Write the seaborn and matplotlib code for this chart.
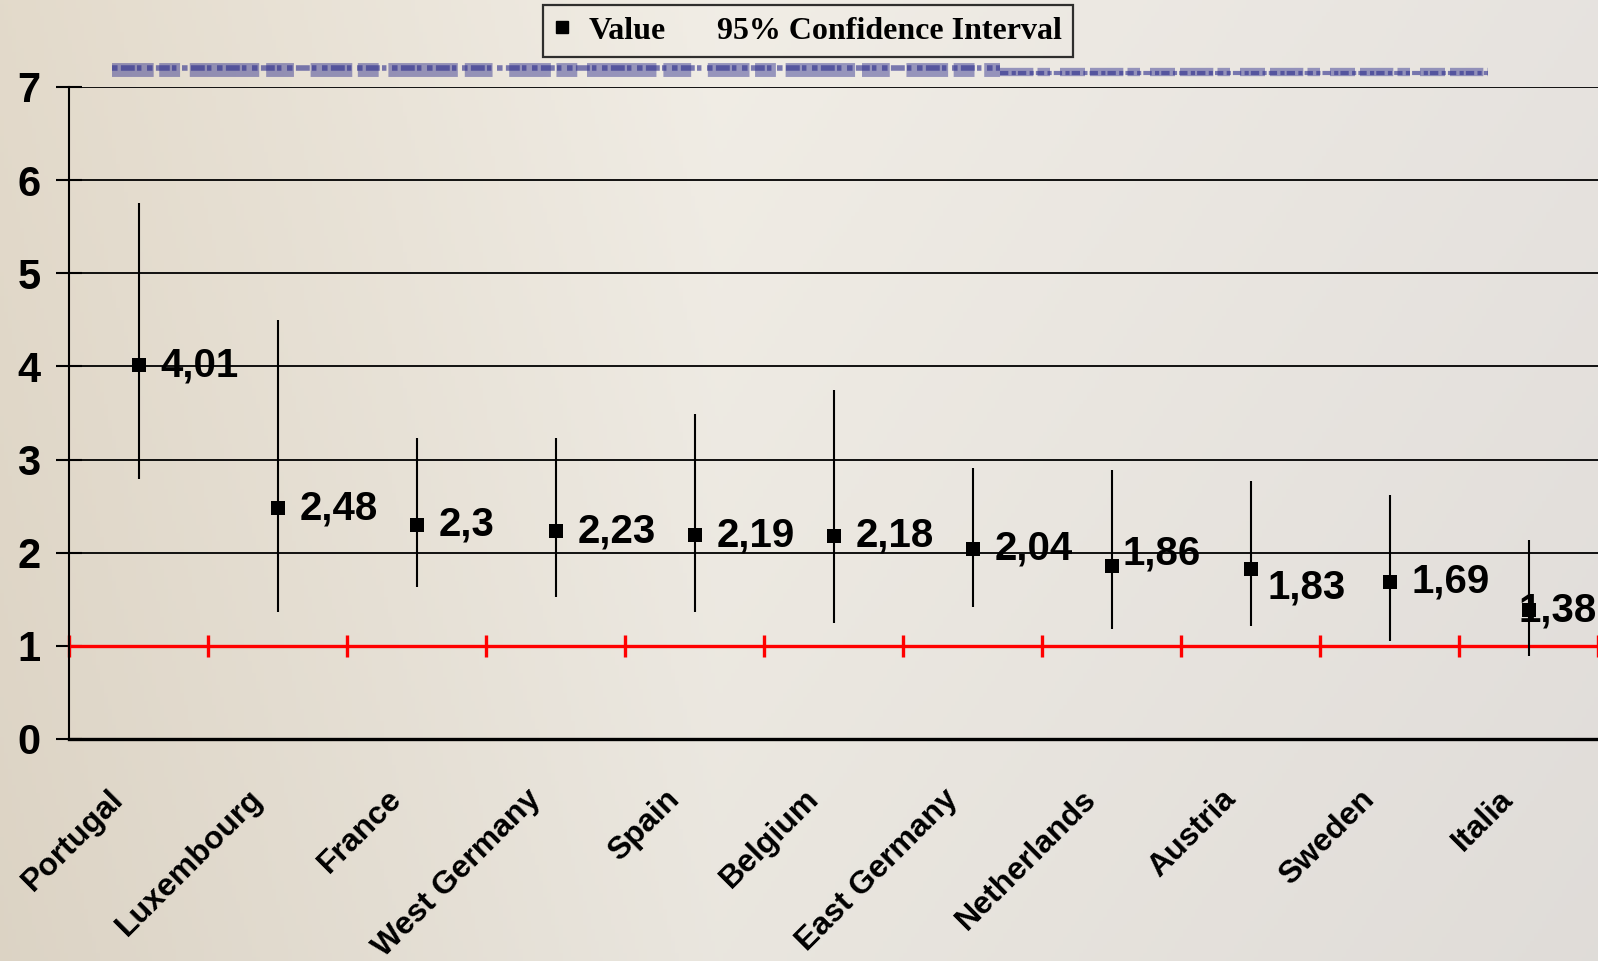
import numpy as np
import pandas as pd
import matplotlib
matplotlib.use("Agg")
import matplotlib.pyplot as plt
import matplotlib.transforms as mtransforms
from matplotlib.lines import Line2D
import seaborn as sns

# ---------------- data ----------------
countries = ["Portugal", "Luxembourg", "France", "West Germany", "Spain", "Belgium",
             "East Germany", "Netherlands", "Austria", "Sweden", "Italia"]
values = [4.01, 2.48, 2.3, 2.23, 2.19, 2.18, 2.04, 1.86, 1.83, 1.69, 1.38]
ci_lower = [2.79, 1.36, 1.63, 1.52, 1.36, 1.25, 1.42, 1.18, 1.21, 1.05, 0.89]
ci_upper = [5.75, 4.50, 3.23, 3.23, 3.49, 3.75, 2.91, 2.89, 2.77, 2.62, 2.14]
reference_value = 1
y_ticks = [0, 1, 2, 3, 4, 5, 6, 7]
legend_labels = ["Value", "95% Confidence Interval"]

# label offsets in points (dx, dy) – layout only
label_offsets = [(16, 0)] * 7 + [(8, 9), (12, -14), (16, 0), (-7, 0)]

df = pd.DataFrame({"country": countries, "value": values,
                   "lo": ci_lower, "hi": ci_upper})

sns.set_theme(style="white")
plt.rcParams["font.family"] = ["Liberation Sans", "DejaVu Sans"]
plt.rcParams["text.color"] = "black"
plt.rcParams["xtick.color"] = "black"
plt.rcParams["ytick.color"] = "black"

W, H = 1598, 961
fig = plt.figure(figsize=(W / 100, H / 100), dpi=100)

# background (paper-like gradient)
bg = fig.add_axes([0, 0, 1, 1], zorder=-5)
xs = np.linspace(0, 1, 400)[None, :]
ys = np.linspace(0, 1, 240)[:, None]
left_c = np.array([0.890, 0.855, 0.795])
mid_c = np.array([0.945, 0.930, 0.900])
right_c = np.array([0.905, 0.890, 0.875])
wl = np.clip(1 - xs / 0.45, 0, 1)
wr = np.clip((xs - 0.45) / 0.55, 0, 1)
wm = 1 - wl - wr
img = (wl[..., None] * left_c + wm[..., None] * mid_c + wr[..., None] * right_c)
img = img * (1 - 0.03 * ys[..., None])
img = np.broadcast_to(img, (240, 400, 3))
bg.imshow(img, aspect="auto", extent=[0, 1, 0, 1], origin="upper")
bg.set_xlim(0, 1)
bg.set_ylim(0, 1)
bg.axis("off")
# decorative blurred blue scanned text band at top
navy = "#2b2c8c"
bg.plot([112 / W, 1000 / W], [1 - 70 / H] * 2, color=navy, lw=10, alpha=0.45,
        linestyle=(0, (3, 0.4, 1.5, 0.7, 5, 0.5, 2, 1.2)), solid_capstyle="butt")
bg.plot([112 / W, 1000 / W], [1 - 68 / H] * 2, color=navy, lw=4, alpha=0.6,
        linestyle=(0, (1, 0.6, 2.5, 0.4, 0.8, 1.0)))
bg.plot([1000 / W, 1488 / W], [1 - 72 / H] * 2, color=navy, lw=6, alpha=0.45,
        linestyle=(0, (4, 0.5, 1.5, 1.2, 3, 0.6)), solid_capstyle="butt")
bg.plot([1000 / W, 1488 / W], [1 - 73 / H] * 2, color=navy, lw=3, alpha=0.6,
        linestyle=(0, (2, 0.8, 1, 0.5)))

ax = fig.add_axes([69 / W, 1 - 739 / H, 1 - 69 / W, (739 - 87) / H])
ax.set_facecolor("none")

n = len(countries)
xpos = np.arange(n)

# grid lines
for yv in y_ticks[1:]:
    ax.axhline(yv, color="black", lw=1.3, zorder=1)

# reference red line with boundary ticks
ax.axhline(reference_value, color="red", lw=2.4, zorder=2)
ax.plot(np.arange(n + 1) - 0.5, [reference_value] * (n + 1), linestyle="none",
        marker="|", markersize=16, markeredgewidth=2.4, color="red", zorder=2,
        clip_on=False)

# confidence intervals
ax.vlines(xpos, df["lo"], df["hi"], color="black", lw=1.5, zorder=3)

# points
sns.scatterplot(data=df, x="country", y="value", marker="s", s=90, color="black",
                edgecolor="black", linewidth=0, ax=ax, zorder=4, legend=False)

# value labels
for i, (v, (dx, dy)) in enumerate(zip(values, label_offsets)):
    ax.annotate(str(v).replace(".", ","), (i, v), xytext=(dx, dy),
                textcoords="offset points", ha="left", va="center",
                fontsize=29, fontweight="bold", color="black", zorder=5)

ax.set_xlim(-0.5, n - 0.5)
ax.set_ylim(0, 7)
ax.set_yticks(y_ticks)
ax.set_yticklabels([str(t) for t in y_ticks], fontsize=30, fontweight="bold",
                   color="black")
ax.tick_params(axis="y", direction="inout", length=19, width=1.5, pad=11,
               left=True, colors="black")
ax.set_xticks(xpos)
ax.set_xticklabels(countries, rotation=45, ha="right", va="center",
                   rotation_mode="anchor", fontsize=23, fontweight="bold",
                   color="black")
ax.tick_params(axis="x", length=0, pad=40, colors="black")
offset = mtransforms.ScaledTranslation(-14 / 72, 0, fig.dpi_scale_trans)
for lab in ax.get_xticklabels():
    lab.set_transform(lab.get_transform() + offset)
ax.set_xlabel("")
ax.set_ylabel("")

for side in ["top", "right"]:
    ax.spines[side].set_visible(False)
ax.spines["left"].set_color("black")
ax.spines["left"].set_linewidth(1.5)
ax.spines["bottom"].set_color("black")
ax.spines["bottom"].set_linewidth(2.4)

# legend
handles = [Line2D([], [], linestyle="none", marker="s", markersize=8, color="black"),
           Line2D([], [], linestyle="none", color="black")]
leg = fig.legend(handles, legend_labels, loc="upper center",
                 bbox_to_anchor=(808 / W, 1 - 5 / H), ncol=2, frameon=True,
                 fancybox=False, edgecolor="black", facecolor="none",
                 handlelength=0.5, handletextpad=0.6, columnspacing=0.5,
                 borderpad=0.35, borderaxespad=0,
                 prop={"family": ["Liberation Serif"], "weight": "bold", "size": 23})
for t in leg.get_texts():
    t.set_color("black")
leg.get_frame().set_linewidth(1.6)

fig.savefig("out.png", dpi=100)
